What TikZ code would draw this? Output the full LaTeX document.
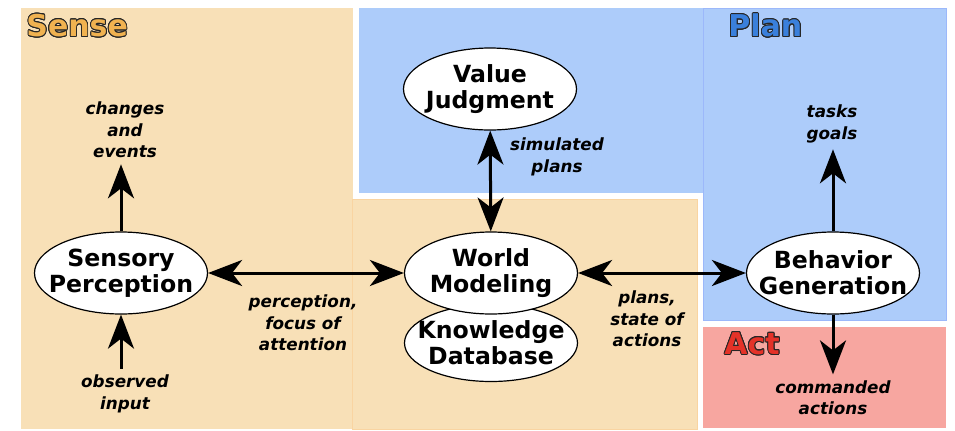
\documentclass[tikz,border=0pt]{standalone}
\usepackage{fontspec}
\setmainfont{DejaVu Sans}
\usepackage{contour}
\usetikzlibrary{arrows.meta,shapes.geometric}
\definecolor{sensebg}{RGB}{248,224,183}
\definecolor{planbg}{RGB}{173,204,250}
\definecolor{actbg}{RGB}{247,166,160}
\definecolor{sensefg}{RGB}{240,178,80}
\definecolor{planfg}{RGB}{58,128,220}
\definecolor{actfg}{RGB}{228,50,40}
\contourlength{0.45pt}

\begin{document}
\begin{tikzpicture}[x=0.5pt, y=-0.5pt,
    main/.style = {draw, ellipse, fill=white, line width=0.6pt, minimum width=86.5pt, minimum height=41pt, inner xsep=-7pt, inner ysep=0pt, align=center, font=\fontsize{11.8}{13}\selectfont\bfseries},
    note/.style = {align=center, inner sep=3pt, font=\fontsize{8.4}{10.7}\selectfont\bfseries\itshape},
    head/.style = {anchor=west, inner sep=0pt, font=\fontsize{15}{18}\selectfont\bfseries},
    edge/.style = {line width=1.5pt, arrows={-Stealth[width=13pt, length=17pt, inset=5pt]}},
    twoway/.style = {line width=1.5pt, arrows={Stealth[width=13pt, length=17pt, inset=5pt]-Stealth[width=13pt, length=17pt, inset=5pt]}}]
    % regions
    \fill[white] (0,0) rectangle (955,430);
    \useasboundingbox (0,0) rectangle (955,430);
    \fill[sensebg] (21,8) rectangle (353,429);
    \filldraw[fill=sensebg, draw=sensebg!88!orange, line width=0.5pt] (352,199) rectangle (697,429);
    \fill[planbg] (359,8) rectangle (703,193);
    \filldraw[fill=planbg, draw=planbg!90!blue, line width=0.5pt] (703,8) rectangle (946,320);
    \fill[actbg] (703,327) rectangle (946,428);
    \node[head, text=sensefg] (sense) at (26,26) {\contour{black!85}{Sense}};
    \node[head, text=planfg] (plan) at (728,26) {\contour{black!85}{Plan}};
    \node[head, text=actfg] (act) at (724,344) {\contour{black!85}{Act}};
    % modules
    \node[main] (kd) at (491,343) [minimum height=38.5pt] {Knowledge\\Database};
    \node[main] (wm) at (491,273) {World\\Modeling};
    \node[main] (sp) at (121,273) {Sensory\\Perception};
    \node[main] (vj) at (490,89) {Value\\Judgment};
    \node[main] (bg) at (833,273) {Behavior\\Generation};
    % labels
    \node[note] (ce) at (125,130) {changes\\and\\events};
    \node[note] (oi) at (125,394) {observed\\input};
    \node[note] (pf) at (303,323) {perception,\\focus of\\attention};
    \node[note] (sim) at (557,157) {simulated\\plans};
    \node[note] (psa) at (647,319) {plans,\\state of\\actions};
    \node[note] (tg) at (832,124) {tasks\\goals};
    \node[note] (ca) at (833,398) {commanded\\actions};
    % flows
    \draw (sp.north)[edge] -- (sp.north |- ce.south);
    \draw (sp.south |- oi.north)[edge] -- (sp.south);
    \draw (sp)[twoway] -- (wm);
    \draw (vj)[twoway] -- (wm);
    \draw (wm)[twoway] -- (bg);
    \draw (bg.north)[edge] -- (bg.north |- tg.south);
    \draw (bg.south)[edge] -- (bg.south |- ca.north);
\end{tikzpicture}
\end{document}
